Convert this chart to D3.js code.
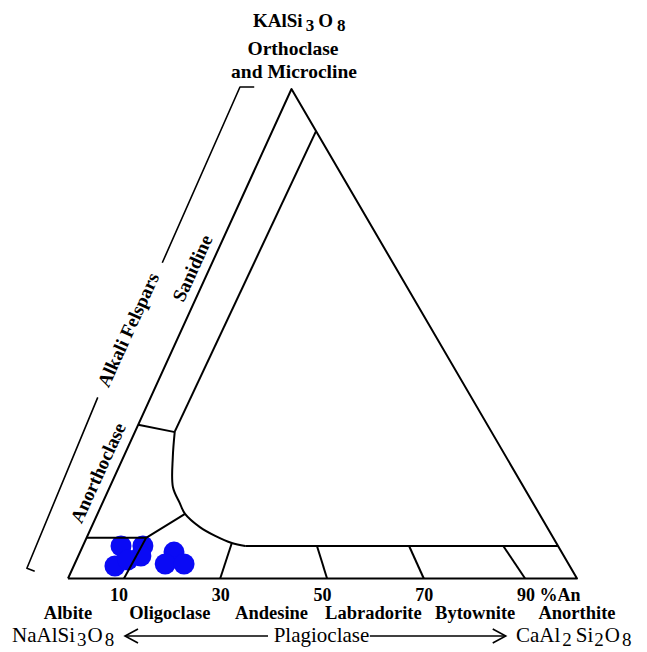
<!DOCTYPE html>
<html>
<head>
    <meta charset="utf-8">
    <title>Feldspar ternary</title>
    <script src="https://d3js.org/d3.v7.min.js"></script>
    <style>
        body { margin: 0; background: #fff; }
        text { font-family: "Liberation Serif", "Times New Roman", serif; fill: #000; }
    </style>
</head>
<body>
<div id="chart"></div>
<script>

    // compositions are [An %, Or %] (Ab is the rest)
    var triangle = [[0, 0], [100, 0], [0, 100]];

    // boundary of the two-feldspar field
    var boundaryTop = [[8.6, 91.4], [7.8, 30.0]];
    var boundaryCorner = [
        [7.8, 30.0], [9.7, 24.8], [12.4, 18.7], [15.2, 15.4],
        [17.2, 13.2], [21.3, 10.5], [25.1, 8.7], [29.0, 7.25], [31.9, 6.64]
    ];
    var boundaryBase = [[31.9, 6.64], [93.36, 6.64]];

    // short dividing lines
    var sanidineLine = [[0, 31.4], [7.9, 29.9]];
    var albiteTop = [[0, 8.3], [11.7, 8.3]];
    var albiteSlant = [[11.7, 8.3], [17.2, 13.2]];
    var plagDividers = [
        [[11.7, 8.3], [11.0, 0]],
        [[29.0, 7.25], [29.9, 0]],
        [[46.0, 6.64], [50.9, 0]],
        [[64.1, 6.64], [69.9, 0]],
        [[82.6, 6.64], [89.8, 0]]
    ];

    // sample points
    var samples = [
        [7.5, 6.64], [11.8, 6.64], [8.1, 2.55], [10.1, 3.8], [12.3, 4.6],
        [18.45, 5.4], [17.8, 2.96], [21.5, 2.96]
    ];

    // axis ticks and names along the plagioclase join
    var tickValues = [10, 30, 50, 70, 90];
    var tickLabels = ["10", "30", "50", "70", "90 %An"];
    var plagNames = ["Albite", "Oligoclase", "Andesine", "Labradorite", "Bytownite", "Anorthite"];
    var plagNameAn = [0, 20, 40, 60, 80, 100];

    // alkali feldspar bracket (outside the triangle) and side labels
    var bracketUpper = [[-7.5, 100.4], [-10.3, 100.4], [-9.8, 64.5]];
    var bracketLower = [[-10.4, 37.0], [-9.0, 2.1], [-7.2, 1.5]];
    var sideLabels = [
        { text: "Alkali Felspars", at: [-10.5, 50.8] },
        { text: "Sanidine", at: [-3.4, 63.4] },
        { text: "Anorthoclase", at: [-3.6, 21.6] }
    ];

    var plagArrows = [[39.3, 11.2], [59.3, 86.0]];

    var width = 647, height = 652;

    var svg = d3.select("#chart")
        .append("svg")
        .attr("width", width)
        .attr("height", height);

    // ternary projection built from linear scales
    var anX = d3.scaleLinear().domain([0, 100]).range([68, 577]);
    var orX = d3.scaleLinear().domain([0, 100]).range([0, 223.5]);
    var orY = d3.scaleLinear().domain([0, 100]).range([578.5, 89]);

    function px(d) { return anX(d[0]) + orX(d[1]); }
    function py(d) { return orY(d[1]); }

    var line = d3.line().x(px).y(py);
    var smooth = d3.line().x(px).y(py).curve(d3.curveCatmullRom.alpha(0.5));

    var angle = -Math.atan2(orY(0) - orY(100), orX(100)) * 180 / Math.PI;

    // points first, the lines sit on top of them
    svg.selectAll("circle.sample")
        .data(samples)
        .enter()
        .append("circle")
        .attr("class", "sample")
        .attr("cx", px)
        .attr("cy", py)
        .attr("r", 10.5)
        .attr("fill", "#0a0af5");

    var g = svg.append("g")
        .attr("fill", "none")
        .attr("stroke", "#000")
        .attr("stroke-width", 2)
        .attr("stroke-linejoin", "round");

    g.append("path").datum(triangle.concat([triangle[0]])).attr("d", line);
    g.append("path").datum(boundaryTop).attr("d", line);
    g.append("path").datum(boundaryCorner).attr("d", smooth);
    g.append("path").datum(boundaryBase).attr("d", line);
    g.append("path").datum(sanidineLine).attr("d", line);
    g.append("path").datum(albiteTop).attr("d", line);
    g.append("path").datum(albiteSlant).attr("d", line);
    g.selectAll("path.div")
        .data(plagDividers)
        .enter()
        .append("path")
        .attr("class", "div")
        .attr("d", line);

    g.append("path").datum(bracketUpper).attr("d", line).attr("stroke-width", 1.6);
    g.append("path").datum(bracketLower).attr("d", line).attr("stroke-width", 1.6);

    // side labels, rotated along the Ab-Or edge
    svg.selectAll("text.side")
        .data(sideLabels)
        .enter()
        .append("text")
        .attr("class", "side")
        .attr("transform", function (d) {
            return "translate(" + px(d.at) + "," + py(d.at) + ") rotate(" + angle + ")";
        })
        .attr("text-anchor", "middle")
        .attr("dominant-baseline", "central")
        .attr("font-size", 19)
        .attr("font-weight", "bold")
        .text(function (d) { return d.text; });

    // tick labels
    svg.selectAll("text.tick")
        .data(tickValues)
        .enter()
        .append("text")
        .attr("class", "tick")
        .attr("x", function (d) { return anX(d) - 9; })
        .attr("y", 601)
        .attr("font-size", 18)
        .attr("font-weight", "bold")
        .attr("xml:space", "preserve")
        .text(function (d, i) { return tickLabels[i]; });

    // plagioclase names
    svg.selectAll("text.name")
        .data(plagNames)
        .enter()
        .append("text")
        .attr("class", "name")
        .attr("x", function (d, i) { return anX(plagNameAn[i]); })
        .attr("y", 619)
        .attr("text-anchor", "middle")
        .attr("font-size", 18.5)
        .attr("font-weight", "bold")
        .text(function (d) { return d; });

    // apex labels
    var kspar = svg.append("text")
        .attr("x", 253)
        .attr("y", 27)
        .attr("font-size", 19)
        .attr("font-weight", "bold");
    kspar.append("tspan").text("KAlSi");
    kspar.append("tspan").attr("dx", 3).attr("dy", 4).attr("font-size", 17).text("3");
    kspar.append("tspan").attr("dx", 4).attr("dy", -4).text("O");
    kspar.append("tspan").attr("dx", 4).attr("dy", 4).attr("font-size", 17).text("8");

    svg.append("text")
        .attr("x", 293).attr("y", 55)
        .attr("text-anchor", "middle")
        .attr("font-size", 19.5).attr("font-weight", "bold")
        .text("Orthoclase");
    svg.append("text")
        .attr("x", 294).attr("y", 78)
        .attr("text-anchor", "middle")
        .attr("font-size", 19.5).attr("font-weight", "bold")
        .text("and Microcline");

    // bottom row: end members and the plagioclase series
    var baseY = 642;
    var na = svg.append("text").attr("x", 12).attr("y", baseY).attr("font-size", 21);
    na.append("tspan").text("NaAlSi");
    na.append("tspan").attr("dx", 2).attr("dy", 4).attr("font-size", 19).text("3");
    na.append("tspan").attr("dx", 1).attr("dy", -4).text("O");
    na.append("tspan").attr("dx", 2).attr("dy", 4).attr("font-size", 19).text("8");

    var ca = svg.append("text").attr("x", 516).attr("y", baseY).attr("font-size", 21);
    ca.append("tspan").text("CaAl");
    ca.append("tspan").attr("dx", 2).attr("dy", 4).attr("font-size", 19).text("2");
    ca.append("tspan").attr("dx", 4).attr("dy", -4).text("Si");
    ca.append("tspan").attr("dx", 1).attr("dy", 4).attr("font-size", 19).text("2");
    ca.append("tspan").attr("dx", 1).attr("dy", -4).text("O");
    ca.append("tspan").attr("dx", 2).attr("dy", 4).attr("font-size", 19).text("8");

    svg.append("text")
        .attr("x", anX(49.8)).attr("y", baseY)
        .attr("text-anchor", "middle")
        .attr("font-size", 21)
        .text("Plagioclase");

    var arrowY = 636;
    var arr = svg.append("g").attr("stroke", "#000").attr("stroke-width", 1.6).attr("fill", "none");
    plagArrows.forEach(function (a) {
        var x0 = anX(a[0]), x1 = anX(a[1]);
        var dir = x1 > x0 ? 1 : -1;
        arr.append("line").attr("x1", x0).attr("y1", arrowY).attr("x2", x1).attr("y2", arrowY);
        arr.append("polyline")
            .attr("points", [[x1 - dir * 13, arrowY - 7], [x1, arrowY], [x1 - dir * 13, arrowY + 7]].join(" "));
    });

</script>
</body>
</html>
